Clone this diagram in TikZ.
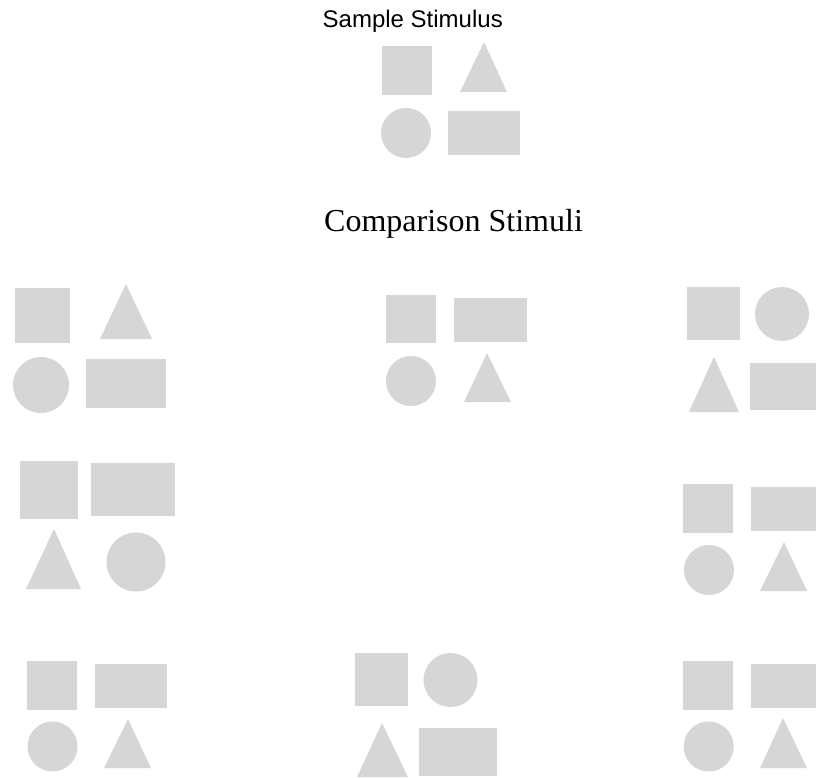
\documentclass[tikz,border=0pt]{standalone}
\usepackage{fontspec}
\setmainfont{Liberation Serif}
\newfontfamily\arialfont{Liberation Sans}
\begin{document}
\begin{tikzpicture}[x=1pt,y=-1pt,
  shp/.style={fill={rgb,255:red,214;green,214;blue,214}},
  sanslabel/.style={font=\arialfont\fontsize{24}{28}\selectfont,inner sep=0pt},
  seriflabel/.style={font=\fontsize{32}{38}\selectfont,inner sep=0pt}]
\useasboundingbox[fill=white] (0,0) rectangle (817,778);
% titles
\node[sanslabel,anchor=base east] (sample) at (503,28) {Sample Stimulus};
\node[seriflabel,anchor=base west] (comp) at (324,232) {Comparison Stimuli};
% sample
\fill[shp] (382,46) rectangle (432,95);
\fill[shp] (460,92) -- (484,42) -- (507,92) -- cycle;
\fill[shp] (406,133) circle (25pt);
\fill[shp] (448,111) rectangle (520,155);
% top-left
\fill[shp] (15,288) rectangle (70,343);
\fill[shp] (100,339) -- (126,284) -- (152,339) -- cycle;
\fill[shp] (41,385) circle (28pt);
\fill[shp] (86,359) rectangle (166,408);
% top-middle
\fill[shp] (386,295) rectangle (436,343);
\fill[shp] (454,298) rectangle (527,342);
\fill[shp] (411,381) circle (25pt);
\fill[shp] (464,402) -- (487,353) -- (511,402) -- cycle;
% top-right
\fill[shp] (687,287) rectangle (740,340);
\fill[shp] (782,314) circle (27pt);
\fill[shp] (689,412) -- (714,357) -- (739,412) -- cycle;
\fill[shp] (750,363) rectangle (816,410);
% middle-left
\fill[shp] (20,461) rectangle (78,519);
\fill[shp] (91,463) rectangle (175,516);
\fill[shp] (26,589) -- (54,529) -- (81,589) -- cycle;
\fill[shp] (136,562) circle (29.5pt);
% middle-right
\fill[shp] (683,484) rectangle (733,533);
\fill[shp] (751,487) rectangle (816,531);
\fill[shp] (709,570) circle (25pt);
\fill[shp] (760,591) -- (784,542) -- (807,591) -- cycle;
% bottom-left
\fill[shp] (27,661) rectangle (77,710);
\fill[shp] (95,664) rectangle (167,708);
\fill[shp] (52.5,746.5) circle (25pt);
\fill[shp] (104,768) -- (128,719) -- (151,768) -- cycle;
% bottom-middle
\fill[shp] (355,653) rectangle (408,706);
\fill[shp] (450.5,680) circle (27pt);
\fill[shp] (357,777) -- (382,723) -- (408,777) -- cycle;
\fill[shp] (419,728) rectangle (497,776);
% bottom-right
\fill[shp] (683,661) rectangle (733,710);
\fill[shp] (751,664) rectangle (816,708);
\fill[shp] (708.7,746.5) circle (25pt);
\fill[shp] (760,768) -- (783,718) -- (807,768) -- cycle;
\end{tikzpicture}
\end{document}
